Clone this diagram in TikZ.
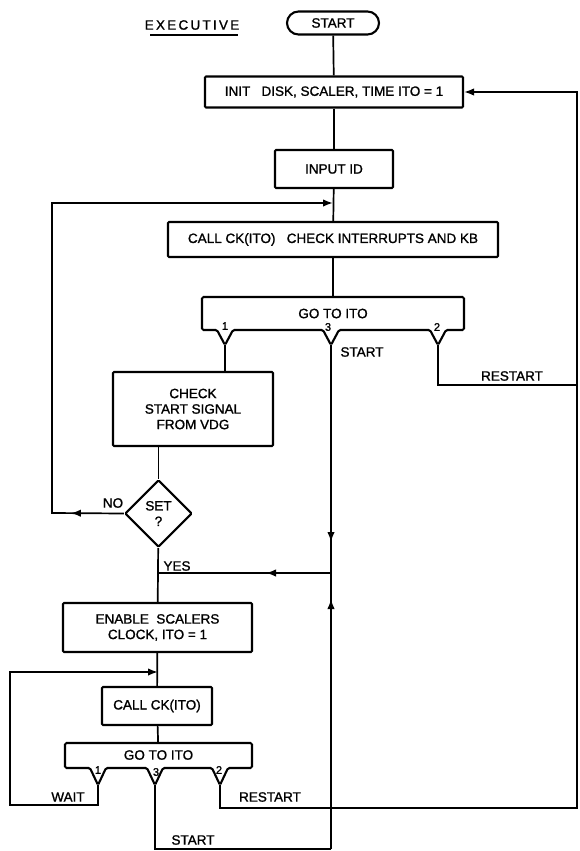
\documentclass[tikz,border=0pt]{standalone}
\usepackage{fontspec}
\setmainfont{Liberation Sans}[BoldFont=Liberation Sans, BoldFeatures={FakeBold=1.2}]
\usetikzlibrary{arrows.meta,shapes.geometric,decorations.markings}

\tikzset{
	box/.style={draw, line width=2.1pt, rounded corners=1pt, inner sep=0pt, align=center},
	line/.style={line width=1.7pt, -{Latex[length=10pt,width=7.5pt]}},
	plain/.style={line width=1.7pt},
	arrowat/.style={postaction={decorate}, decoration={markings,
		mark=at position #1 with {\arrow{Latex[length=10pt,width=7.5pt]}}}},
	lbl/.style={inner sep=0pt},
	num/.style={inner sep=0pt, font=\bfseries\fontsize{11}{11}\selectfont},
}

\begin{document}
\begin{tikzpicture}[x=1pt, y=-1pt, font=\bfseries\fontsize{13.5}{15.5}\selectfont]
	\useasboundingbox[fill=white] (0,0) rectangle (579,851);

	% top column
	\node[lbl] (exec) at (192,25) {E\,X\,E\,C\,U\,T\,I\,V\,E};
	\draw[line width=1.4pt] (150,35) -- (238,35);
	\node[box, rounded corners=11.5pt, minimum width=92, minimum height=23] (start) at (333,23) {START};
	\node[box, minimum width=258, minimum height=31] (init) at (334,92) {INIT\ \ \ DISK, SCALER, TIME ITO = 1};
	\node[box, minimum width=118, minimum height=38] (input) at (334,169) {INPUT ID};
	\node[box, minimum width=330, minimum height=35] (call) at (333,239.5) {CALL CK(ITO)\ \ \ CHECK INTERRUPTS AND KB};

	% first GO TO ITO
	\node[lbl, minimum width=262, minimum height=33] (goto1) at (333,313.5) {GO TO ITO};
	\draw[line width=2.1pt, rounded corners=1.5pt] (202,297) -- (464,297) -- (464,330) -- (446,330)
		-- (438,345) coordinate (g1v2) -- (430,330) -- (339,330)
		-- (331,345) coordinate (g1v3) -- (323,330) -- (233,330)
		-- (225,345) coordinate (g1v1) -- (217,330) -- (202,330) -- cycle;
	\node[num] at (225,326) {1};
	\node[num] at (328,327) {3};
	\node[num] at (437,327) {2};

	\node[box, minimum width=160, minimum height=74] (check) at (193,409) {CHECK\\START SIGNAL\\FROM VDG};
	\node[box, diamond, minimum width=67, minimum height=67] (set) at (158.5,513.5) {SET\\?};
	\node[box, minimum width=189, minimum height=49] (enable) at (157.5,627.5) {ENABLE\ \ SCALERS\\CLOCK, ITO = 1};
	\node[box, minimum width=110, minimum height=38] (ck) at (157,706) {CALL CK(ITO)};

	% second GO TO ITO
	\node[lbl, minimum width=187, minimum height=25] (goto2) at (158.5,755) {GO TO ITO};
	\draw[line width=2.1pt, rounded corners=1.5pt] (65,743) -- (252,743) -- (252,768) -- (228,768)
		-- (220,785) coordinate (g2v2) -- (212,768) -- (163,768)
		-- (155,785) coordinate (g2v3) -- (147,768) -- (106,768)
		-- (98,785) coordinate (g2v1) -- (90,768) -- (65,768) -- cycle;
	\node[num] at (98,770) {1};
	\node[num] at (156,772) {3};
	\node[num] at (219,770) {2};

	% corners
	\coordinate (loopin) at (333,203);
	\coordinate (nocorner) at (52,513);
	\coordinate (junc) at (331,573);
	\coordinate (stcorner) at (331,849);
	\coordinate (waitin) at (158,672);
	\coordinate (waitc) at (10,805);
	\coordinate (rrt) at (577,385);
	\coordinate (rrb) at (577,808);
	\coordinate (rtop) at (577,92);

	% flow
	\draw[plain] (start) -- (init);
	\draw[plain] (init) -- (input);
	\draw[plain] (input) -- (call);
	\draw[plain] (call) -- (goto1);
	\draw[plain] (g1v1) -- (g1v1 |- check.north);
	\draw[plain] (check.south -| set) -- (set.north);
	\draw[plain] (set) -- (enable);
	\draw[plain] (enable) -- (ck);
	\draw[plain] (ck) -- (goto2);

	\draw[line, arrowat=53pt] (set.west) -- (nocorner) |- (loopin);
	\draw[plain, arrowat=197pt] (g1v3) -- (junc);
	\draw[plain, arrowat=65pt] (junc) -- (set.south |- junc);
	\draw[plain] (g2v3) |- (stcorner);
	\draw[plain, arrowat=250pt] (stcorner) -- (junc);
	\draw[plain] (g1v2) |- (rrt);
	\draw[line] (g2v2) |- (rrb) -- (rtop) -- (init.east);
	\draw[line] (g2v1) |- (waitc) |- (waitin);

	% labels
	\node[lbl] at (113,503) {NO};
	\node[lbl] at (177,566) {YES};
	\node[lbl] at (362,352) {START};
	\node[lbl] at (512,376) {RESTART};
	\node[lbl] at (68,797) {WAIT};
	\node[lbl] at (270,797) {RESTART};
	\node[lbl] at (193,840) {START};
\end{tikzpicture}
\end{document}
